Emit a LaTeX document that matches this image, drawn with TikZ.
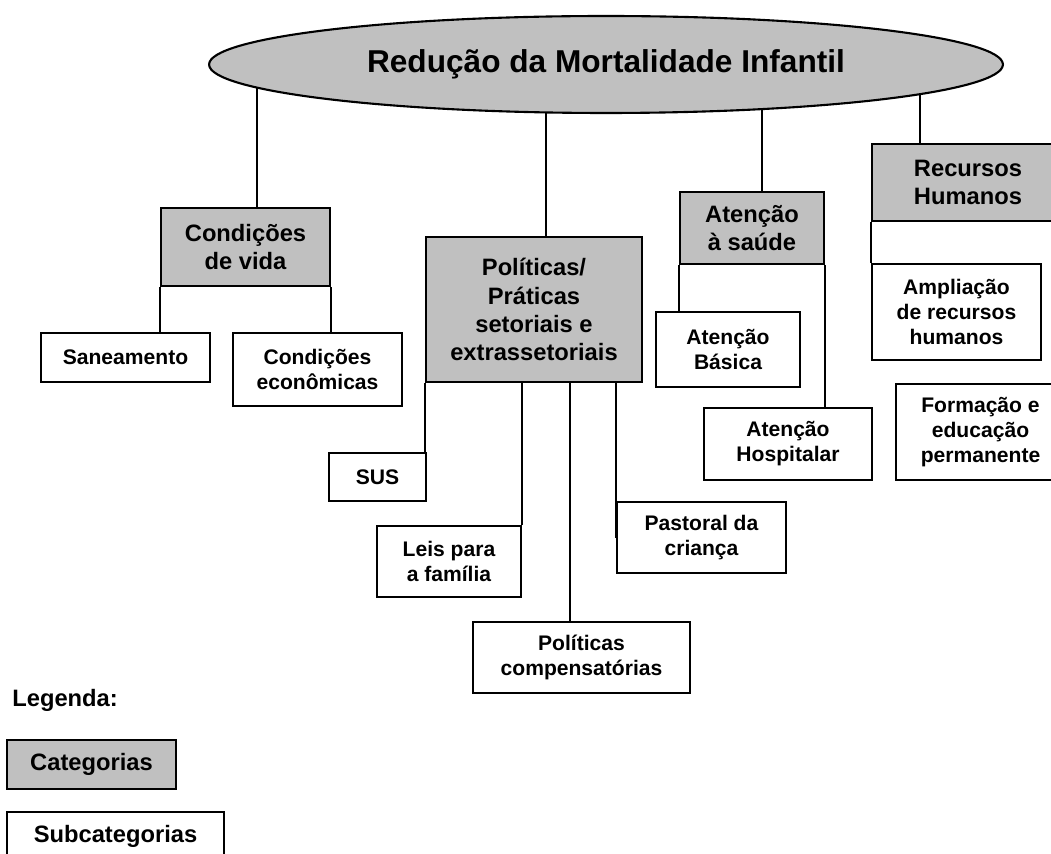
\documentclass[tikz,border=0pt]{standalone}
\usepackage{fontspec}
\setmainfont{Liberation Sans}
\usetikzlibrary{shapes.geometric,backgrounds}

\definecolor{catgray}{RGB}{192,192,192}

\tikzset{
    catbox/.style={rectangle, draw, fill=catgray, line width=1.2pt, align=center,
        inner sep=2pt, font=\fontsize{13.5}{16}\selectfont\bfseries},
    subbox/.style={rectangle, draw, fill=white, line width=0.9pt, align=center,
        inner sep=2pt, font=\fontsize{12}{14.2}\selectfont\bfseries},
    link/.style={line width=0.85pt}
}

\begin{document}
\begin{tikzpicture}[x=0.02cm, y=-0.02cm]
    \useasboundingbox (0,0) rectangle (1051,854);
    \clip (0,0) rectangle (1051,854);

    % Title
    \node[ellipse, draw, fill=catgray, line width=1.2pt, minimum width=15.88cm,
          minimum height=1.94cm, font=\fontsize{18}{21}\selectfont\bfseries]
          (top) at (606,64.5) {Redução da Mortalidade Infantil};

    % Categories
    \node[catbox, minimum width=3.38cm, minimum height=1.56cm] (vida) at (245.5,247) {Condições\\de vida};
    \node[catbox, minimum width=4.32cm, minimum height=2.9cm] (pol) at (534,309.5) {Políticas/\\Práticas\\setoriais e\\extrassetoriais};
    \node[catbox, minimum width=2.88cm, minimum height=1.44cm] (saude) at (752,228) {Atenção\\à saúde};
    \node[catbox, minimum width=3.84cm, minimum height=1.54cm] (rh) at (968,182.5) {Recursos\\Humanos};

    % Subcategories
    \node[subbox, minimum width=3.38cm, minimum height=0.98cm] (san) at (125.5,357.5) {Saneamento};
    \node[subbox, minimum width=3.38cm, minimum height=1.46cm] (econ) at (317.5,369.5) {Condições\\econômicas};
    \node[subbox, minimum width=1.94cm, minimum height=0.96cm] (sus) at (377.5,477) {SUS};
    \node[subbox, minimum width=2.88cm, minimum height=1.42cm] (leis) at (449,561.5) {Leis para\\a família};
    \node[subbox, minimum width=4.34cm, minimum height=1.42cm] (comp) at (581.5,657.5) {Políticas\\compensatórias};
    \node[subbox, minimum width=3.38cm, minimum height=1.42cm] (past) at (701.5,537.5) {Pastoral da\\criança};
    \node[subbox, minimum width=2.88cm, minimum height=1.5cm] (basica) at (728,349.5) {Atenção\\Básica};
    \node[subbox, minimum width=3.36cm, minimum height=1.44cm] (hosp) at (788,444) {Atenção\\Hospitalar};
    \node[subbox, minimum width=3.38cm, minimum height=1.92cm] (ampl) at (956.5,312) {Ampliação\\de recursos\\humanos};
    \node[subbox, minimum width=3.38cm, minimum height=1.92cm] (form) at (980.5,432) {Formação e\\educação\\permanente};

    % Legend
    \node[anchor=west, inner sep=0pt, font=\fontsize{13.5}{16}\selectfont\bfseries] (leg) at (12,700) {Legenda:};
    \node[catbox, minimum width=3.38cm, minimum height=0.98cm] (legcat) at (91.5,764.5) {Categorias};
    \node[subbox, minimum width=4.34cm, minimum height=0.98cm, line width=1.2pt,
          font=\fontsize{13.5}{16}\selectfont\bfseries] (legsub) at (115.5,836.5) {Subcategorias};

    % Links
    \begin{scope}[on background layer]
        \draw[link] ([xshift=0.23cm]vida.north) -- ([xshift=0.23cm]vida.north |- top.center);
        \draw[link] ([xshift=0.24cm]pol.north) -- ([xshift=0.24cm]pol.north |- top.center);
        \draw[link] ([xshift=0.2cm]saude.north) -- ([xshift=0.2cm]saude.north |- top.center);
        \draw[link] ([xshift=-0.96cm]rh.north) -- ([xshift=-0.96cm]rh.north |- top.center);
    \end{scope}
    \draw[link] (vida.south west) -- (vida.south west |- san.north);
    \draw[link] (vida.south east) -- (vida.south east |- econ.north);
    \draw[link] (pol.south west) -- (pol.south west |- sus.north);
    \draw[link] (leis.north east |- pol.south) -- (leis.north east);
    \draw[link] ([xshift=-0.23cm]comp.north |- pol.south) -- ([xshift=-0.23cm]comp.north);
    \draw[link] (past.north west |- pol.south) -- (past.west);
    \draw[link] (saude.south west) -- (saude.south west |- basica.north);
    \draw[link] (saude.south east) -- (saude.south east |- hosp.north);
    \draw[link] (rh.south west) -- (rh.south west |- ampl.north);
\end{tikzpicture}
\end{document}
